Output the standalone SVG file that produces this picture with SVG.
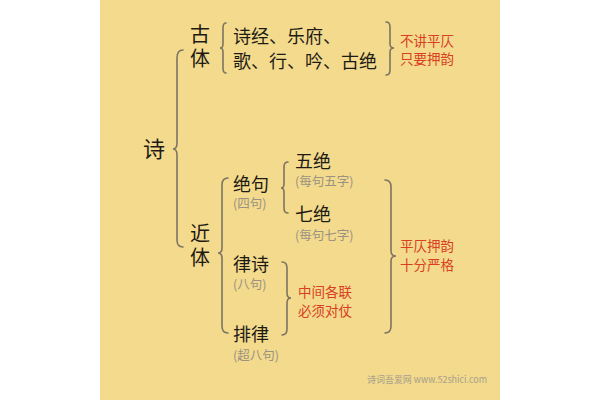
<svg xmlns="http://www.w3.org/2000/svg" width="600" height="400" viewBox="0 0 600 400">
<style>
text{font-family:"Noto Sans CJK SC","Noto Sans",sans-serif}
.main{fill:#1e1a14}
.sub{fill:#9a9282;font-size:12.5px}
.red{fill:#d8401f;font-size:13.5px}
.br{fill:none;stroke:#7e7462;stroke-width:1.6;stroke-linecap:round}
</style>
<rect x="0" y="0" width="600" height="400" fill="#ffffff"/>
<rect x="100" y="0" width="400" height="400" fill="#f3da8d"/>
<g id="connectors">
<path class="br" d="M183,50 Q177,50 177,58 L177,143 Q177,149 173,149 Q177,149 177,155 L177,240 Q177,247 183,247"/>
<path class="br" d="M226,23 Q223,23 223,28 L223,44 Q223,48 220,48 Q223,48 223,52 L223,68 Q223,73 226,73"/>
<path class="br" d="M386,22 Q390,22 390,27 L390,44 Q390,48 394,48 Q390,48 390,52 L390,70 Q390,75 386,75"/>
<path class="br" d="M228,178 Q222,178 222,185 L222,248 Q222,253 218,253 Q222,253 222,258 L222,326 Q222,333 228,333"/>
<path class="br" d="M288,162 Q284,162 284,167 L284,184 Q284,188 281,188 Q284,188 284,192 L284,208 Q284,213 288,213"/>
<path class="br" d="M385,180 Q391,180 391,187 L391,251 Q391,256 396,256 Q391,256 391,261 L391,326 Q391,333 385,333"/>
<path class="br" d="M282,262 Q287,262 287,268 L287,293 Q287,298 291,298 Q287,298 287,303 L287,329 Q287,335 282,335"/>
</g>
<g id="shi"><text class="main" x="143" y="157" font-size="22">诗</text></g>
<g id="guti"><text class="main" x="190" y="42" font-size="20">古</text><text class="main" x="190" y="66" font-size="20">体</text></g>
<g id="guti-items">
<text class="main" x="233" y="43" font-size="18">诗经、乐府、</text>
<text class="main" x="233" y="68" font-size="18">歌、行、吟、古绝</text>
</g>
<g id="guti-note"><text class="red" x="400" y="46">不讲平仄</text><text class="red" x="400" y="64">只要押韵</text></g>
<g id="jinti"><text class="main" x="190" y="241" font-size="20">近</text><text class="main" x="190" y="265" font-size="20">体</text></g>
<g id="jueju"><text class="main" x="233" y="191" font-size="18">绝句</text><text class="sub" x="233" y="208">(四句)</text></g>
<g id="wujue"><text class="main" x="295" y="168" font-size="18">五绝</text><text class="sub" x="295" y="186">(每句五字)</text></g>
<g id="qijue"><text class="main" x="295" y="221" font-size="18">七绝</text><text class="sub" x="295" y="240">(每句七字)</text></g>
<g id="lvshi"><text class="main" x="233" y="271" font-size="18">律诗</text><text class="sub" x="233" y="289">(八句)</text></g>
<g id="pailv"><text class="main" x="233" y="341" font-size="18">排律</text><text class="sub" x="233" y="360">(超八句)</text></g>
<g id="jinti-note"><text class="red" x="400" y="251">平仄押韵</text><text class="red" x="400" y="270">十分严格</text></g>
<g id="lv-note"><text class="red" x="298" y="297">中间各联</text><text class="red" x="298" y="316">必须对仗</text></g>
<text x="367" y="383" font-size="9.5" fill="#a8a08c" textLength="120" lengthAdjust="spacingAndGlyphs">诗词吾爱网 www.52shici.com</text>
</svg>
